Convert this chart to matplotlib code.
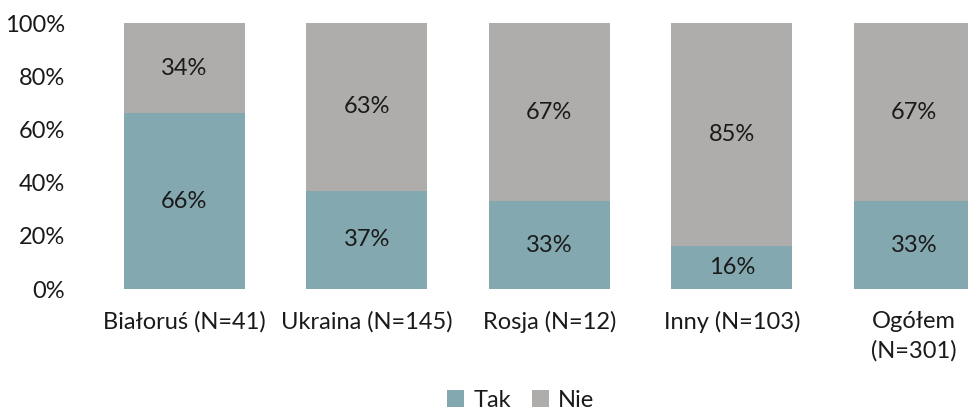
import matplotlib
matplotlib.use("Agg")
import matplotlib.pyplot as plt

categories = ["Białoruś (N=41)", "Ukraina (N=145)", "Rosja (N=12)", "Inny (N=103)", "Ogółem\n(N=301)"]
tak = [66, 37, 33, 16, 33]
nie = [34, 63, 67, 85, 67]
series_names = ["Tak", "Nie"]
colors = ["#84A8B0", "#AEADAC"]

plt.rcParams['font.family'] = ['Lato', 'DejaVu Sans']
FS = 17
TC = '#1a1a1a'
fig = plt.figure(figsize=(9.68, 4.11), dpi=100)
ax = fig.add_axes([93/968, 122/411, 5*182.5/968, 266/411])
x = list(range(len(categories)))
w = 0.663
b1 = ax.bar(x, tak, width=w, color=colors[0], label=series_names[0])
b2 = ax.bar(x, nie, width=w, bottom=tak, color=colors[1], label=series_names[1])
for i in x:
    ax.text(i, tak[i]/2, f"{tak[i]}%", ha='center', va='center', fontsize=FS, color=TC)
    ax.text(i, tak[i] + min(nie[i], 100 - tak[i])/2, f"{nie[i]}%", ha='center', va='center', fontsize=FS, color=TC)
ax.set_xlim(-0.5, 4.5)
ax.set_ylim(0, 100)
ax.set_yticks(range(0, 101, 20))
ax.set_yticklabels([f"{v}%" for v in range(0, 101, 20)], fontsize=FS, color=TC)
ax.set_xticks(x)
ax.set_xticklabels(categories, fontsize=FS, color=TC, va='top', linespacing=1.45)
ax.tick_params(length=0, axis='x', pad=16)
ax.tick_params(length=0, axis='y', pad=20)
for s in ax.spines.values():
    s.set_visible(False)
fig.legend(handles=[b1, b2], labels=series_names, loc='center', bbox_to_anchor=(521/968, 1 - 400/411),
           ncol=2, frameon=False, fontsize=FS, handlelength=0.7, handleheight=0.7, handletextpad=0.4,
           columnspacing=0.9, labelcolor=TC)
fig.savefig("out.png", dpi=100)
